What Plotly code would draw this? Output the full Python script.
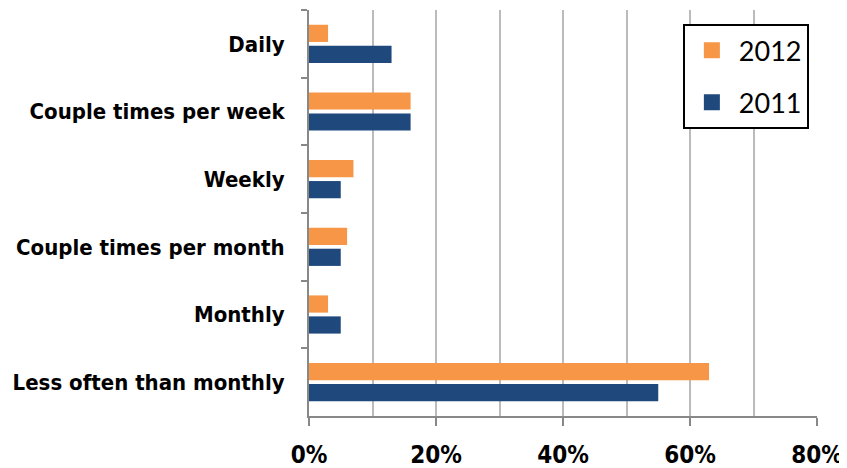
import plotly.graph_objects as go

categories = ["Daily", "Couple times per week", "Weekly", "Couple times per month",
              "Monthly", "Less often than monthly"]
values_2012 = [3, 16, 7, 6, 3, 63]
values_2011 = [13, 16, 5, 5, 5, 55]
series_names = ["2012", "2011"]
colors = ["#F79646", "#1F497D"]
x_ticks = [0, 20, 40, 60, 80]
x_tick_labels = ["0%", "20%", "40%", "60%", "80%"]

label_font = dict(family="Liberation Sans Narrow, DejaVu Sans Condensed, Arial Narrow, sans-serif",
                  size=22, color="black", weight="bold")
xtick_font = dict(family="Liberation Sans Narrow, DejaVu Sans Condensed, Arial Narrow, sans-serif",
                  size=24, color="black", weight="bold")

fig = go.Figure()
for name, vals, col in zip(series_names, [values_2012, values_2011], colors):
    fig.add_trace(go.Bar(y=categories, x=vals, name=name, orientation="h",
                         marker=dict(color=col, line=dict(width=0)),
                         showlegend=False))
for name, col in zip(series_names, colors):
    fig.add_trace(go.Scatter(x=[None], y=[None], mode="markers", name=name,
                             legendgroup=name,
                             marker=dict(symbol="square", size=16, color=col)))

fig.update_layout(
    width=839, height=460,
    margin=dict(l=301, r=30, t=2, b=52),
    plot_bgcolor="white", paper_bgcolor="white",
    barmode="group", bargap=0.38, bargroupgap=0.18,
    legend=dict(x=0.984, y=0.965, xanchor="right", yanchor="top",
                bordercolor="black", borderwidth=2, bgcolor="white",
                font=dict(family="Lato, DejaVu Sans, sans-serif", size=27, color="black"),
                traceorder="grouped", tracegroupgap=14,
                itemwidth=44),
    xaxis=dict(range=[0, 80], tickvals=x_ticks, ticktext=x_tick_labels,
               showgrid=True, gridcolor="#BBBBBB", gridwidth=2,
               minor=dict(dtick=10, showgrid=True, gridcolor="#BBBBBB", gridwidth=2, ticks=""),
               showline=True, linecolor="#888888", linewidth=2,
               ticks="outside", ticklen=8, tickcolor="#888888", tickwidth=2,
               tickfont=xtick_font, zeroline=False, fixedrange=True,
               ticklabelstandoff=8, automargin=False),
    yaxis=dict(categoryorder="array", categoryarray=categories, autorange="reversed",
               showline=True, linecolor="#888888", linewidth=2,
               ticks="outside", ticklen=6, tickcolor="#888888", tickwidth=2,
               tickson="boundaries", showgrid=False,
               tickfont=label_font, ticklabelstandoff=18, automargin=False),
)

fig.write_html("out.html")
